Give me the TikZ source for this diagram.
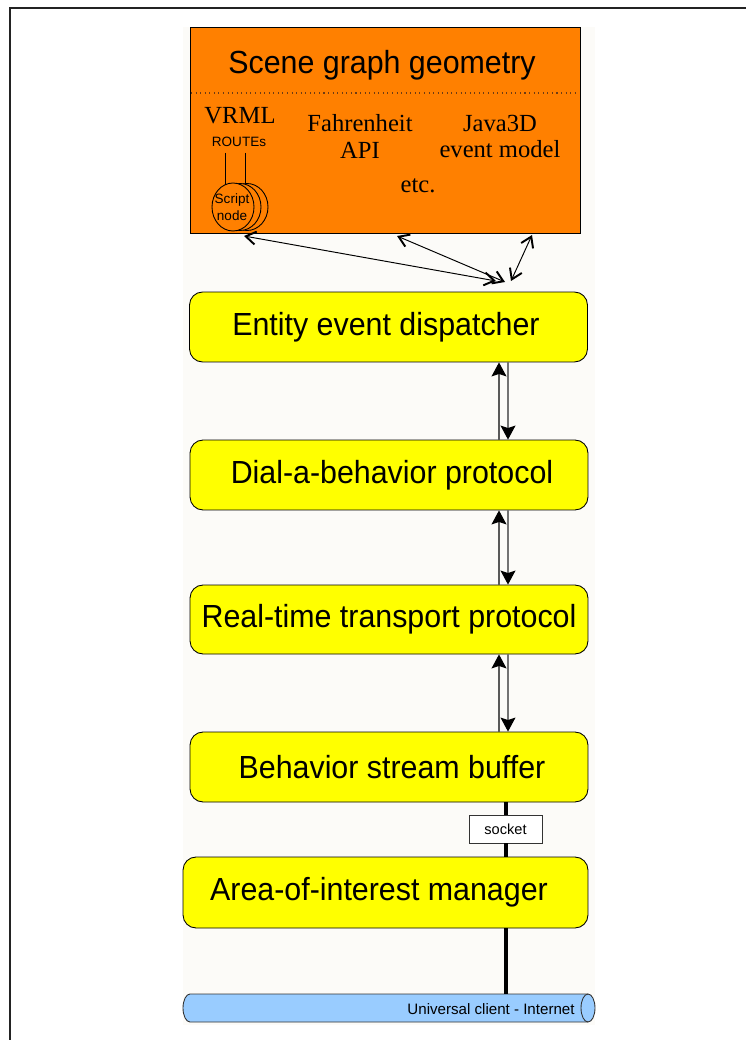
\documentclass[tikz,border=0pt]{standalone}
\usepackage{fontspec}
\setmainfont{Liberation Serif}
\newfontfamily\arialf{Liberation Sans}
\newfontfamily\arialn[FakeStretch=0.95]{Liberation Sans}
\usetikzlibrary{arrows.meta}
\definecolor{sgorange}{RGB}{255,128,0}
\definecolor{layeryellow}{RGB}{255,255,0}
\definecolor{netblue}{RGB}{153,204,255}
\definecolor{stripbg}{RGB}{252,251,248}
\definecolor{framegray}{RGB}{35,35,35}
\definecolor{dotbrown}{RGB}{110,60,20}

\begin{document}
\begin{tikzpicture}[x=0.02cm,y=-0.02cm,
  layer/.style={draw=black, line width=0.5pt, fill=layeryellow,
    rounded corners=2.6mm, minimum width=7.96cm, minimum height=1.4cm,
    inner sep=0pt, font=\arialn\fontsize{18.2}{21}\selectfont},
  serifitem/.style={align=center, inner sep=0pt,
    font=\fontsize{14}{15.3}\selectfont},
  smallsans/.style={align=center, inner sep=0pt,
    font=\arialf\fontsize{7.7}{9.6}\selectfont},
  toparr/.style={line width=0.55pt,
    {Straight Barb[length=2mm,width=2.6mm,line width=1.1pt]}-{Straight Barb[length=2mm,width=2.6mm,line width=1.1pt]}},
  uparr/.style={draw=black!65, line width=0.6pt,
    -{Stealth[length=2.8mm,width=3mm,inset=0.5mm,color=black]}},
  downarr/.style={draw=black!55, line width=0.6pt,
    -{Stealth[length=2.8mm,width=3mm,inset=0.5mm,color=black]}},
  bus/.style={line width=0.08cm, black},
  socketbox/.style={draw=black!80, line width=0.5pt, fill=white,
    minimum width=1.46cm, minimum height=0.56cm, inner sep=0pt,
    font=\arialf\fontsize{8.3}{10}\selectfont},
]
\useasboundingbox (0,0) rectangle (746,1040);

% page background and the faint column behind the stack
\fill[white] (0,0) rectangle (746,1040);
\fill[stripbg] (183,27) rectangle (595,1025);

% frame
\draw[framegray, line width=0.05cm] (10,1040) -- (10,8) -- (746,8);

% ---- scene graph block ----
\node[draw=black, line width=0.5pt, fill=sgorange, minimum width=7.8cm,
      minimum height=4.12cm, inner sep=0pt, anchor=north west] (sg) at (190,27) {};
\node[inner sep=0pt, font=\arialn\fontsize{18.2}{21}\selectfont] (sgtitle) at (382,65) {Scene graph geometry};
\draw[dotbrown, dotted, line width=0.6pt] (191,93) -- (579,93);

\node[serifitem] (vrml) at (240,116) {VRML};
\node[smallsans] (routes) at (239,142) {ROUTEs};
\node[serifitem] (fahr) at (360,136.5) {Fahrenheit\\API};
\node[serifitem] (j3d) at (500,136.5) {Java3D\\event model};
\node[serifitem] (etc) at (418,186) {etc.};

% ROUTE wires into the stacked script nodes
\draw[line width=0.5pt] (225,153) -- (225,192);
\draw[line width=0.5pt] (245,153) -- (245,192);
\draw[line width=0.5pt, fill=sgorange] (247,207) ellipse [x radius=21, y radius=23.5];
\draw[line width=0.5pt, fill=sgorange] (240,207) ellipse [x radius=21, y radius=23.5];
\draw[line width=0.5pt, fill=sgorange] (233,207) ellipse [x radius=21, y radius=24];
\node[smallsans] (script) at (232,207.5) {Script\\node};

% ---- protocol stack ----
\node[layer] (ent) at (388.5,327) {\kern-0.1cm Entity event dispatcher};
\node[layer] (dab) at (389,475) {\kern0.12cm Dial-a-behavior protocol};
\node[layer, minimum height=1.38cm] (rtp) at (389,619.5) {Real-time transport protocol};
\node[layer] (bsb) at (389,767) {\kern0.12cm Behavior stream buffer};
\node[layer, minimum width=8.1cm, minimum height=1.42cm] (aoi) at (385.5,892.5) {\kern-0.26cm Area-of-interest manager};

% links from the scene graph down to the dispatcher
\coordinate (vrmlport) at (244,236);
\coordinate (apiport) at (397,236);
\coordinate (j3dport) at (532,235);
\coordinate (hubA) at (496,281);
\coordinate (hubB) at (505,282);
\coordinate (hubC) at (511,281);
\draw[toparr] (vrmlport) -- (hubA);
\draw[toparr] (apiport) -- (hubB);
\draw[toparr] (j3dport) -- (hubC);

% paired up/down arrows between layers
\coordinate (upcol) at (499,0);
\coordinate (downcol) at (508,0);
\draw[uparr] (dab.north -| upcol) -- (ent.south -| upcol);
\draw[downarr] (ent.south -| downcol) -- (dab.north -| downcol);
\draw[uparr] (rtp.north -| upcol) -- (dab.south -| upcol);
\draw[downarr] (dab.south -| downcol) -- (rtp.north -| downcol);
\draw[uparr] (bsb.north -| upcol) -- (rtp.south -| upcol);
\draw[downarr] (rtp.south -| downcol) -- (bsb.north -| downcol);

% network cylinder
\node[inner sep=0pt, minimum width=8.24cm, minimum height=0.56cm] (net) at (389,1008) {};
\draw[black!80, line width=0.5pt, fill=netblue]
  (190,994) -- (588,994) arc[start angle=-90, end angle=90, x radius=7, y radius=14]
  -- (190,1022) arc[start angle=90, end angle=270, x radius=7, y radius=14] -- cycle;
\draw[black!80, line width=0.5pt] (588,994) arc[start angle=-90, end angle=-270, x radius=7, y radius=14];
\node[inner sep=0pt, font=\arialf\fontsize{8.6}{10}\selectfont] (netlbl) at (491,1009) {Universal client - Internet};

% socket connection
\coordinate (buscol) at (506,0);
\node[socketbox] (sock) at (505.5,829) {socket};
\draw[bus] (bsb.south -| buscol) -- (sock.north -| buscol);
\draw[bus] (sock.south -| buscol) -- (aoi.north -| buscol);
\draw[bus] (aoi.south -| buscol) -- (net.north -| buscol);
\end{tikzpicture}
\end{document}
